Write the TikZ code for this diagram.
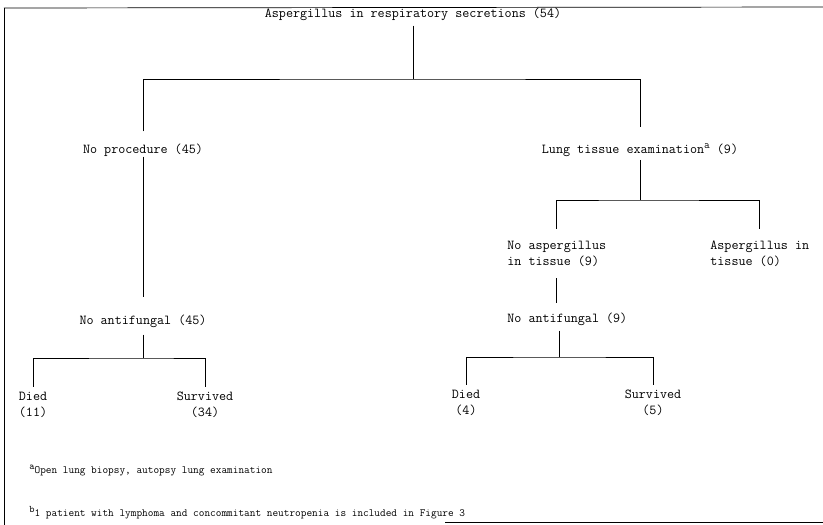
\documentclass[tikz,border=0pt]{standalone}
\usepackage{fontspec}
\usepackage{tikz}
\usetikzlibrary{positioning,calc}
\newcommand{\fnmark}[2]{\raisebox{#1}{\fontsize{#2}{#2}\selectfont a}}
\newcommand{\fnmarkb}[2]{\raisebox{#1}{\fontsize{#2}{#2}\selectfont b}}

\begin{document}
\begin{tikzpicture}[x=1pt, y=-1pt, line width=0.7pt,
  every node/.style={inner sep=0pt, text=black},
  lbl/.style={font=\fontsize{13.7}{16}\selectfont\ttfamily},
  note/.style={font=\fontsize{11}{13}\selectfont\ttfamily, anchor=base west}]
  \useasboundingbox (0,0) rectangle (823,525);
  \draw (4,8) -- (823,7);
  \draw (4,8) -- (4,525);
  \draw (445,522) -- (823,522);
  \node[lbl] (top) at (413,14) {Aspergillus in respiratory secretions (54)};
  \node[lbl] (proc) at (143,150) {No procedure (45)};
  \node[lbl] (lung) at (640,150) {Lung tissue examination\fnmark{5pt}{11} (9)};
  \node[lbl] (naf) at (143,321) {No antifungal (45)};
  \node[lbl, align=left] (died) at (33,405) {Died\\(11)};
  \node[lbl, align=center] (surv) at (205,405) {Survived\\(34)};
  \node[lbl, align=left, anchor=west] (noasp) at (507,254) {No aspergillus\\in tissue (9)};
  \node[lbl, align=left, anchor=west] (asp) at (710,254) {Aspergillus in\\tissue (0)};
  \node[lbl, anchor=west] (naf2) at (507,319) {No antifungal (9)};
  \node[lbl, align=center] (died2) at (466,403) {Died\\(4)};
  \node[lbl, align=center] (surv2) at (653,403) {Survived\\(5)};
  \node[note] (fa) at (29,473) {\fnmark{4pt}{10}Open lung biopsy, autopsy lung examination};
  \node[note] (fb) at (29,516) {\fnmarkb{4pt}{10}1 patient with lymphoma and concommitant neutropenia is included in Figure 3};
  \coordinate (b1) at (413,79);
  \coordinate (b2) at (640,200);
  \coordinate (b3) at (143,358);
  \coordinate (b4) at (559,357);
  \draw[shorten <=5pt] (top) -- (b1);
  \draw[shorten <=12pt, shorten >=16pt] (proc) |- (b1) -| (lung);
  \draw[shorten >=17pt] (proc) -- (naf);
  \draw[shorten <=7pt] (naf) -- (b3);
  \draw[shorten <=5pt, shorten >=5pt] (died) |- (b3) -| (surv);
  \draw[shorten <=3pt] (lung) -- (b2);
  \draw[shorten <=12pt, shorten >=12pt] (noasp) |- (b2) -| (asp);
  \draw[shorten <=11pt, shorten >=9pt] (noasp.south) -- (noasp.south |- naf2.north);
  \draw[shorten <=5pt] (naf2.south -| b4) -- (b4);
  \draw[shorten <=5pt, shorten >=5pt] (died2) |- (b4) -| (surv2);
\end{tikzpicture}
\end{document}
